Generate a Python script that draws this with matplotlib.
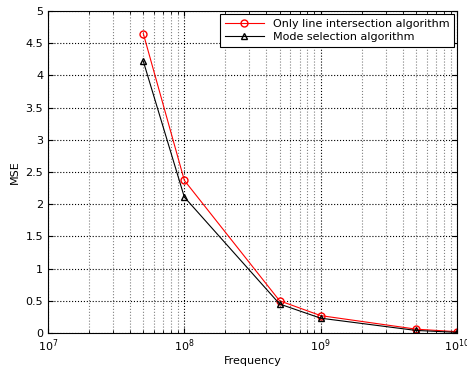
import matplotlib
matplotlib.use("Agg")
import matplotlib.pyplot as plt
import numpy as np

freq = [5e7, 1e8, 5e8, 1e9, 5e9, 1e10]
mse_line = [4.65, 2.37, 0.50, 0.27, 0.06, 0.02]
mse_mode = [4.22, 2.11, 0.45, 0.23, 0.04, 0.01]
labels = ["Only line intersection algorithm", "Mode selection algorithm"]

plt.rcParams['font.family'] = ['DejaVu Sans']
fig = plt.figure(figsize=(4.67, 3.68), dpi=100)
ax = fig.add_axes([0.1028, 0.0951, 0.8758, 0.875])
ax.plot(freq, mse_line, color='red', marker='o', markersize=5, markerfacecolor='none',
        markeredgecolor='red', linewidth=0.8, label=labels[0])
ax.plot(freq, mse_mode, color='black', marker='^', markersize=5, markerfacecolor='none',
        markeredgecolor='black', linewidth=0.8, label=labels[1])
ax.set_xscale('log')
ax.set_xlim(1e7, 1e10)
ax.set_ylim(0, 5)
ax.set_yticks(np.arange(0, 5.01, 0.5))
ax.set_yticklabels(['0', '0.5', '1', '1.5', '2', '2.5', '3', '3.5', '4', '4.5', '5'])
ax.grid(True, which='major', linestyle=':', color='black', linewidth=0.8)
ax.grid(True, which='minor', axis='x', linestyle=':', color='gray', linewidth=0.8)
ax.tick_params(which='both', direction='in', top=True, right=True, labelsize=8)
ax.set_xlabel('Frequency', fontsize=8, labelpad=1)
ax.set_ylabel('MSE', fontsize=8, labelpad=4)
for s in ax.spines.values():
    s.set_linewidth(0.8)
leg = ax.legend(loc='upper right', fontsize=8, fancybox=False, edgecolor='black',
                framealpha=1, borderaxespad=0.3, handlelength=3.5, labelspacing=0.3)
leg.get_frame().set_linewidth(0.8)
fig.savefig('out.png', dpi=100)
